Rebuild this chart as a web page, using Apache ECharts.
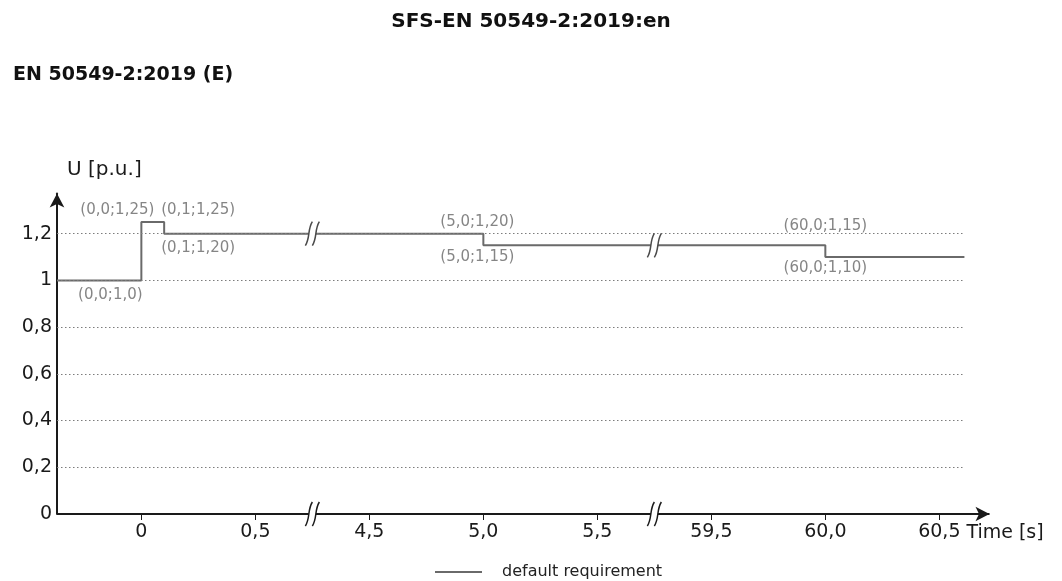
<!DOCTYPE html>
<html>
<head>
<meta charset="utf-8">
<script src="https://cdn.jsdelivr.net/npm/echarts@6/dist/echarts.min.js"></script>
<style>
  html, body { margin: 0; padding: 0; background: #ffffff; }
  #chart { width: 1062px; height: 581px; }
</style>
</head>
<body>
<div id="chart"></div>
<script>
// Time axis (s): tick positions and their printed labels
const timeTicks = [0, 0.5, 4.5, 5.0, 5.5, 59.5, 60.0, 60.5];
const timeTickLabels = ['0', '0,5', '4,5', '5,0', '5,5', '59,5', '60,0', '60,5'];
// Stretches of time left out of the axis
const timeBreaks = [[0.5, 4.5], [5.5, 59.5]];
// Time axis extent (s)
const timeMin = -0.37;
const timeMax = 60.72;
// Voltage axis (p.u.) ticks
const voltTicks = [0, 0.2, 0.4, 0.6, 0.8, 1.0, 1.2];
// Default requirement: voltage level that applies from each time onward
const reqTimes = [-0.37, 0.0, 0.1, 5.0, 60.0, 60.61];
const reqVolts = [1.0, 1.25, 1.20, 1.15, 1.10, 1.10];
// Annotated corner points (time; voltage)
const cornerTimes = [0.0, 0.0, 0.1, 0.1, 5.0, 5.0, 60.0, 60.0];
const cornerVolts = [1.0, 1.25, 1.25, 1.20, 1.20, 1.15, 1.15, 1.10];

const FONT = '"DejaVu Sans", "Liberation Sans", Arial, sans-serif';
const AXIS_COLOR = '#1a1a1a';
const LINE_COLOR = '#6a6a6a';

const fmt = (v, digits) => v.toFixed(digits).replace('.', ',');

// voltage level in force at time t
function levelAt(t) {
  let u = reqVolts[0];
  for (let i = 0; i < reqTimes.length; i++) if (reqTimes[i] <= t) u = reqVolts[i];
  return u;
}

// where each corner label sits around its point (px)
const cornerLabelOffsets = [[-31, 15], [-24, -12], [34, -12], [34, 14], [-6, -12], [-6, 12], [0, -19], [0, 11]];

const stepData = reqTimes.map((t, i) => [t, reqVolts[i]]);
const cornerData = cornerTimes.map((t, i) => ({
  value: [t, cornerVolts[i]],
  label: { offset: cornerLabelOffsets[i] }
}));
// break marks: on the time axis and on the requirement line
const breakMarks = [];
timeBreaks.forEach(([s, e]) => {
  breakMarks.push([s, e, 0, 0]);
  breakMarks.push([s, e, levelAt((s + e) / 2), 1]);
});

const chart = echarts.init(document.getElementById('chart'));

chart.setOption({
  animation: false,
  backgroundColor: '#ffffff',
  title: [
    {
      text: 'SFS-EN 50549-2:2019:en',
      left: 'center', top: 7,
      textStyle: { fontFamily: FONT, fontSize: 20, fontWeight: 'bold', color: '#111' }
    },
    {
      text: 'EN 50549-2:2019 (E)',
      left: 8, top: 61,
      textStyle: { fontFamily: FONT, fontSize: 19, fontWeight: 'bold', color: '#111' }
    }
  ],
  legend: {
    data: ['default requirement'],
    left: 435, top: 564, padding: 0,
    icon: 'rect', itemWidth: 47, itemHeight: 2,
    textStyle: { fontFamily: FONT, fontSize: 16, color: '#222', padding: [0, 0, 0, 15] }
  },
  grid: { left: 57, right: 72.5, top: 193.5, bottom: 67, containLabel: false },
  xAxis: {
    type: 'value',
    min: timeMin, max: timeMax,
    breaks: timeBreaks.map(([s, e]) => ({ start: s, end: e, gap: 0.5 })),
    breakArea: { show: false },
    name: 'Time [s]',
    nameLocation: 'end',
    nameGap: -25,
    nameTextStyle: { fontFamily: FONT, fontSize: 19, color: AXIS_COLOR, align: 'left', verticalAlign: 'top', padding: [10, 0, 0, 0] },
    axisLine: { show: false },
    axisTick: { show: true, customValues: timeTicks, length: 6, lineStyle: { color: AXIS_COLOR, width: 1 } },
    axisLabel: {
      customValues: timeTicks,
      formatter: v => timeTickLabels[timeTicks.indexOf(v)],
      fontFamily: FONT, fontSize: 19, color: AXIS_COLOR, margin: 9
    },
    splitLine: { show: false }
  },
  yAxis: {
    type: 'value',
    min: 0, max: 1.372,
    name: 'U [p.u.]',
    nameLocation: 'end',
    nameGap: 24,
    nameTextStyle: { fontFamily: FONT, fontSize: 20, color: AXIS_COLOR, align: 'left', verticalAlign: 'middle', padding: [0, 0, 0, 10] },
    axisLine: { show: true, onZero: false, symbol: ['none', 'arrow'], symbolSize: [11, 14], lineStyle: { color: AXIS_COLOR, width: 2 } },
    axisTick: { show: false },
    axisLabel: {
      customValues: voltTicks,
      formatter: v => String(v).replace('.', ','),
      fontFamily: FONT, fontSize: 19, color: AXIS_COLOR, margin: 5
    },
    splitLine: { show: false }
  },
  series: [
    {
      // dotted horizontal grid lines
      name: 'grid',
      type: 'line',
      data: [],
      z: 1,
      clip: false,
      markLine: {
        silent: true,
        symbol: 'none',
        label: { show: false },
        lineStyle: { type: [1.5, 2.5], color: '#7c7c7c', width: 1 },
        data: voltTicks.filter(v => v > 0).map(v => [
          { coord: [reqTimes[0], v] },
          { coord: [reqTimes[reqTimes.length - 1], v] }
        ])
      }
    },
    {
      // time axis line, drawn unbroken through the omitted stretches
      name: 'time axis',
      type: 'line',
      data: [],
      z: 2,
      clip: false,
      markLine: {
        silent: true,
        symbol: ['none', 'arrow'],
        symbolSize: [11, 14],
        label: { show: false },
        lineStyle: { type: 'solid', color: AXIS_COLOR, width: 2 },
        data: [[{ coord: [timeMin, 0] }, { coord: [timeMax, 0] }]]
      }
    },
    {
      name: 'default requirement',
      type: 'line',
      step: 'end',
      data: stepData,
      symbol: 'none',
      z: 3,
      itemStyle: { color: LINE_COLOR },
      lineStyle: { color: LINE_COLOR, width: 2 }
    },
    {
      name: 'corners',
      type: 'scatter',
      data: cornerData,
      symbol: 'circle',
      symbolSize: 2,
      itemStyle: { color: 'rgba(0,0,0,0)' },
      z: 6,
      label: {
        show: true,
        position: 'inside',
        align: 'center',
        verticalAlign: 'middle',
        fontFamily: FONT, fontSize: 15, color: '#666666',
        formatter: p => {
          const [t, u] = p.value;
          return '(' + fmt(t, 1) + ';' + fmt(u, Number.isInteger(u) ? 1 : 2) + ')';
        }
      }
    },
    {
      name: 'breaks',
      type: 'custom',
      data: breakMarks,
      encode: { x: [0, 1], y: 2 },
      z: 5,
      clip: false,
      renderItem: (params, api) => {
        const y = api.value(2);
        const a = api.coord([api.value(0), y]);
        const b = api.coord([api.value(1), y]);
        const cx = (a[0] + b[0]) / 2;
        const cy = a[1];
        const color = api.value(3) === 0 ? AXIS_COLOR : '#4a4a4a';
        const stroke = dx => ({
          type: 'bezierCurve',
          shape: {
            x1: cx + dx + 3.5, y1: cy - 12,
            cpx1: cx + dx - 1.5, cpy1: cy - 4,
            cpx2: cx + dx + 1.5, cpy2: cy + 4,
            x2: cx + dx - 3.5, y2: cy + 12
          },
          style: { stroke: color, lineWidth: 1.5, fill: null }
        });
        return {
          type: 'group',
          children: [
            { type: 'rect', shape: { x: cx - 3.5, y: cy - 3, width: 7, height: 6 }, style: { fill: '#ffffff' } },
            stroke(-3.5),
            stroke(3.5)
          ]
        };
      }
    }
  ]
});
</script>
</body>
</html>
